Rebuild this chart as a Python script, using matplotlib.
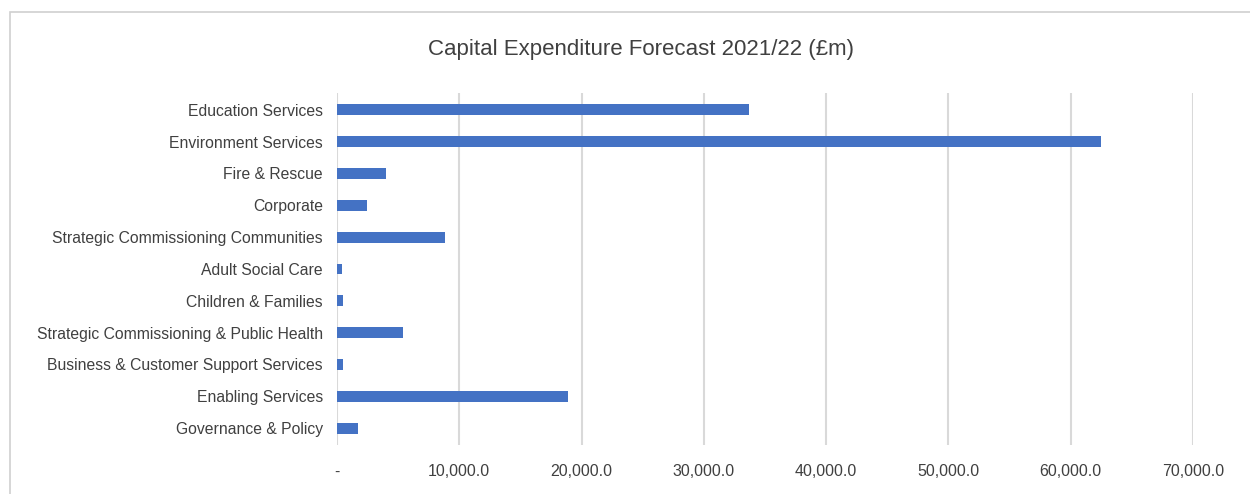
import matplotlib.pyplot as plt
from matplotlib.patches import Rectangle
from matplotlib.ticker import FuncFormatter

categories = [
    "Education Services",
    "Environment Services",
    "Fire & Rescue",
    "Corporate",
    "Strategic Commissioning Communities",
    "Adult Social Care",
    "Children & Families",
    "Strategic Commissioning & Public Health",
    "Business & Customer Support Services",
    "Enabling Services",
    "Governance & Policy",
]
values = [33700, 62500, 4000, 2480, 8870, 380, 515, 5360, 515, 18870, 1740]
x_ticks = [0, 10000, 20000, 30000, 40000, 50000, 60000, 70000]

plt.rcParams['font.family'] = ['Liberation Sans Narrow', 'Liberation Sans', 'DejaVu Sans']

fig = plt.figure(figsize=(12.5, 4.94), dpi=100)
ax = fig.add_axes([0.2696, 0.0992, 0.6848, 0.7128])

ypos = list(range(len(categories)))
ax.barh(ypos, values, height=0.34, color="#4472C4", zorder=3)

ax.set_ylim(len(categories) - 0.47, -0.53)
ax.set_xlim(0, 70000)
ax.set_yticks(ypos)
ax.set_yticklabels(categories, fontsize=11.3, color="#404040")
ax.set_xticks(x_ticks)


def fmt(v, pos):
    if v == 0:
        return "-"
    return f"{v:,.1f}"


ax.xaxis.set_major_formatter(FuncFormatter(fmt))
ax.tick_params(axis="x", labelsize=11.5, labelcolor="#404040", length=0, pad=14)
ax.tick_params(axis="y", length=0, pad=10)
ax.grid(axis="x", color="#d9d9d9", linewidth=1.5, zorder=0)
for s in ax.spines.values():
    s.set_visible(False)

fig.text(0.513, 0.9, "Capital Expenditure Forecast 2021/22 (£m)", ha="center",
         va="center", fontsize=16, color="#404040")

fig.patches.append(Rectangle((0.008, -0.05), 1.1, 1.025, transform=fig.transFigure,
                             fill=False, edgecolor="#d0d0d0", linewidth=1.2))

fig.savefig("out.png", dpi=100)
